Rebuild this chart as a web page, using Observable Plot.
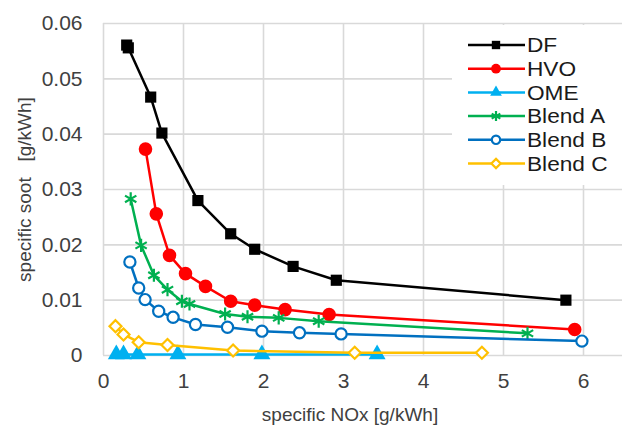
<!DOCTYPE html>
<html><head><meta charset="utf-8">
<script src="https://cdn.jsdelivr.net/npm/d3@7"></script>
<script src="https://cdn.jsdelivr.net/npm/@observablehq/plot@0.6"></script>
<style>
body{margin:0;background:#fff;}
#chart{position:relative;width:622px;height:425px;}
#legend{position:absolute;left:452px;top:25px;background:#fff;}
</style></head><body><div id="chart"></div>
<script>
// ---- data ----
const seriesNames = ["DF", "HVO", "OME", "Blend A", "Blend B", "Blend C"];
const xTicks = [0, 1, 2, 3, 4, 5, 6];
const yTicks = [0, 0.01, 0.02, 0.03, 0.04, 0.05, 0.06];

const dfNOx  = [0.29, 0.31, 0.59, 0.73, 1.18, 1.59, 1.89, 2.37, 2.91, 5.78];
const dfSoot = [0.0561, 0.0556, 0.0467, 0.0402, 0.0280, 0.0220, 0.0192, 0.0161, 0.0136, 0.0100];

const hvoNOx  = [0.525, 0.66, 0.825, 1.025, 1.275, 1.59, 1.89, 2.27, 2.82, 5.89];
const hvoSoot = [0.0373, 0.0256, 0.0181, 0.0148, 0.0125, 0.0098, 0.0091, 0.0083, 0.0074, 0.0047];

const omeNOx  = [0.16, 0.25, 0.43, 0.93, 1.98, 3.42];
const omeSoot = [0.0002, 0.0002, 0.0002, 0.0002, 0.0002, 0.0002];

const blendANOx  = [0.34, 0.47, 0.63, 0.80, 0.98, 1.075, 1.52, 1.80, 2.19, 2.69, 5.30];
const blendASoot = [0.0283, 0.0199, 0.0145, 0.0119, 0.0098, 0.0093, 0.0075, 0.0070, 0.0068, 0.0062, 0.0040];

const blendBNOx  = [0.33, 0.44, 0.52, 0.69, 0.87, 1.15, 1.55, 1.98, 2.45, 2.97, 5.98];
const blendBSoot = [0.0169, 0.0122, 0.0101, 0.0080, 0.0069, 0.0056, 0.0051, 0.0044, 0.0041, 0.0039, 0.0026];

const blendCNOx  = [0.15, 0.25, 0.44, 0.80, 1.62, 3.14, 4.73];
const blendCSoot = [0.0053, 0.0038, 0.0024, 0.0019, 0.0009, 0.0005, 0.0005];

const xLabel = "specific NOx [g/kWh]";
const yLabel = "specific soot\u00a0\u00a0 [g/kWh]";

// ---- styles ----
const colors = ["#000000", "#ff0000", "#00b0f0", "#00b050", "#0070c0", "#ffc000"];
const markerStyles = [
  {symbol: "square",   r: 6.3, fill: colors[0], stroke: "none"},
  {symbol: "circle",   r: 6.8, fill: colors[1], stroke: "none"},
  {symbol: "triangle", r: 6.3, fill: colors[2], stroke: "none"},
  {symbol: "asterisk", r: 6.2, fill: "none",    stroke: colors[3], strokeWidth: 2.2},
  {symbol: "circle",   r: 5.6, fill: "white",   stroke: colors[4], strokeWidth: 2.2},
  {symbol: "diamond2", r: 5.4, fill: "white",   stroke: colors[5], strokeWidth: 2.2}
];
const font = 'Arial, "Liberation Sans", sans-serif';
const textColor = "#404040";

const xs = [dfNOx, hvoNOx, omeNOx, blendANOx, blendBNOx, blendCNOx];
const ys = [dfSoot, hvoSoot, omeSoot, blendASoot, blendBSoot, blendCSoot];
const tables = seriesNames.map((name, i) => xs[i].map((x, j) => ({series: name, nox: x, soot: ys[i][j]})));

const marks = [
  Plot.gridX(xTicks, {stroke: "#d9d9d9", strokeOpacity: 1, strokeWidth: 1.6}),
  Plot.gridY(yTicks, {stroke: "#d9d9d9", strokeOpacity: 1, strokeWidth: 1.6})
];
tables.forEach((t, i) => {
  const m = markerStyles[i];
  marks.push(Plot.line(t, {x: "nox", y: "soot", stroke: colors[i], strokeWidth: 2.5}));
  marks.push(Plot.dot(t, {x: "nox", y: "soot", symbol: () => m.symbol, r: m.r,
    fill: m.fill, stroke: m.stroke, strokeWidth: m.strokeWidth || 0}));
});
marks.push(Plot.axisX(xTicks, {tickSize: 0, tickPadding: 18, tickFormat: d => String(d),
  fontSize: 21, fill: textColor, label: null}));
marks.push(Plot.axisY(yTicks, {tickSize: 0, tickPadding: 21,
  tickFormat: d => d === 0 ? "0" : d.toFixed(2), fontSize: 21, fill: textColor, label: null}));
marks.push(Plot.text([xLabel], {text: d => d, frameAnchor: "bottom", dy: 59, dx: -13,
  lineAnchor: "middle", textAnchor: "middle", fontSize: 19, fill: textColor}));
marks.push(Plot.text([yLabel], {text: d => d, frameAnchor: "left", dx: -79, rotate: -90,
  lineAnchor: "middle", textAnchor: "middle", fontSize: 19, fill: textColor}));

const plot = Plot.plot({
  width: 622, height: 425,
  marginLeft: 103, marginRight: 0, marginTop: 23, marginBottom: 70,
  style: {fontFamily: font, fontSize: "19px", color: textColor, background: "#fff", overflow: "visible"},
  x: {domain: [0, 6.4875]},
  y: {domain: [0, 0.06]},
  marks
});
const chart = document.getElementById("chart");
chart.appendChild(plot);

// ---- legend (inside plot, top right) ----
const legendSymbols = [d3.symbolSquare, d3.symbolCircle, d3.symbolTriangle, d3.symbolAsterisk, d3.symbolCircle, d3.symbolDiamond2];
const legendSizes = [70, 75, 60, 70, 55, 55];
const lg = d3.create("svg").attr("width", 170).attr("height", 160).attr("id", "legend")
  .style("font-family", font).style("font-size", "21px");
seriesNames.forEach((name, i) => {
  const y = 20 + i * 23.7;
  const g = lg.append("g").attr("transform", `translate(0,${y})`);
  g.append("line").attr("x1", 16).attr("x2", 73).attr("stroke", colors[i]).attr("stroke-width", 2.5);
  const m = markerStyles[i];
  g.append("path").attr("transform", "translate(44,0)")
    .attr("d", d3.symbol(legendSymbols[i], legendSizes[i])())
    .attr("fill", m.fill).attr("stroke", m.stroke).attr("stroke-width", m.strokeWidth || 0);
  g.append("text").attr("x", 75).attr("dy", "0.35em").attr("fill", "#1a1a1a")
    .attr("transform", "scale(1.08,1)").attr("transform-origin", "75 0").text(name);
});
chart.appendChild(lg.node());
</script></body></html>
